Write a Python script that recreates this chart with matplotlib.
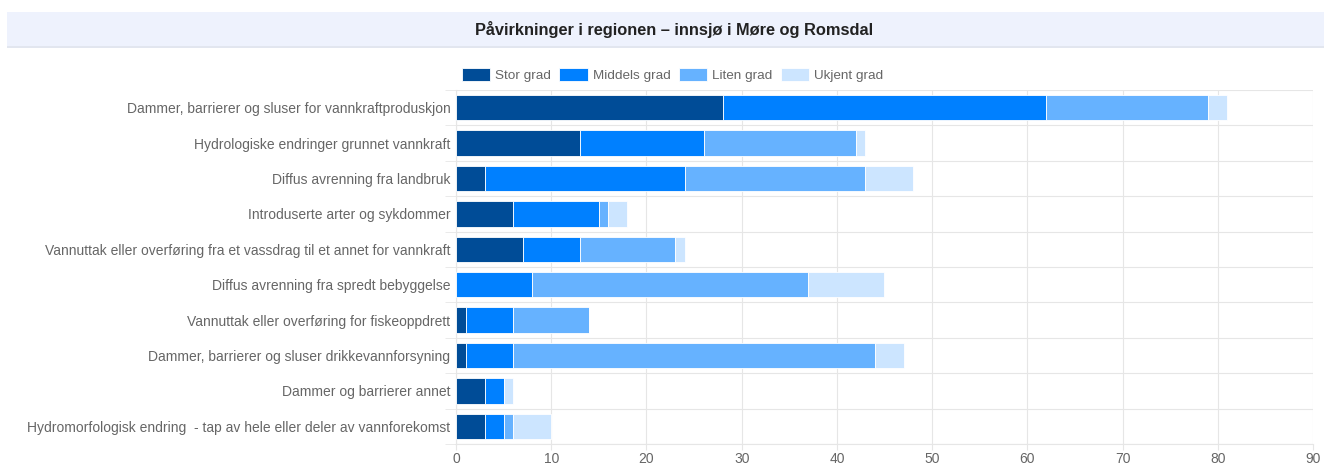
import numpy as np
import matplotlib.pyplot as plt
from matplotlib.patches import Rectangle

# Påvirkninger i regionen - innsjø i Møre og Romsdal

categories = [
    'Dammer, barrierer og sluser for vannkraftproduskjon',
    'Hydrologiske endringer grunnet vannkraft',
    'Diffus avrenning fra landbruk',
    'Introduserte arter og sykdommer',
    'Vannuttak eller overføring fra et vassdrag til et annet for vannkraft',
    'Diffus avrenning fra spredt bebyggelse',
    'Vannuttak eller overføring for fiskeoppdrett',
    'Dammer, barrierer og sluser drikkevannforsyning',
    'Dammer og barrierer annet',
    'Hydromorfologisk endring  - tap av hele eller deler av vannforekomst',
]

stor = [28, 13, 3, 6, 7, 0, 1, 1, 3, 3]
middels = [34, 13, 21, 9, 6, 8, 5, 5, 2, 2]
liten = [17, 16, 19, 1, 10, 29, 8, 38, 0, 1]
ukjent = [2, 1, 5, 2, 1, 8, 0, 3, 1, 4]

series_labels = ['Stor grad', 'Middels grad', 'Liten grad', 'Ukjent grad']
colors = ['#004c97', '#0080ff', '#66b2ff', '#cce5ff']

plt.rcParams['font.family'] = ['Liberation Sans', 'DejaVu Sans']

fig = plt.figure(figsize=(13.24, 4.65), dpi=100)
ax = fig.add_axes([0.3444, 1 - 444 / 465, 0.6473, 354 / 465])

y = np.arange(len(categories))
left = np.zeros(len(categories))
for vals, lab, col in zip([stor, middels, liten, ukjent], series_labels, colors):
    ax.barh(y, vals, left=left, height=0.72, color=col, label=lab,
            edgecolor='white', linewidth=0.6, zorder=3)
    left += np.array(vals)

ax.set_ylim(len(categories) - 0.5, -0.5)
ax.set_xlim(0, 90)
ax.set_xticks(range(0, 91, 10))
ax.set_yticks(y)
ax.set_yticklabels(categories, fontsize=10, color='#666666')
ax.tick_params(axis='x', labelsize=10, colors='#666666', length=4, pad=2, color='#e6e6e6')
ax.tick_params(axis='y', length=0, pad=4)

# grid: vertical at ticks, horizontal between categories
ax.set_yticks(np.arange(-0.5, len(categories), 1), minor=True)
ax.tick_params(axis='y', which='minor', length=8, color='#e6e6e6')
ax.grid(axis='x', color='#e6e6e6', linewidth=0.8, zorder=0)
ax.grid(axis='y', which='minor', color='#e6e6e6', linewidth=0.8, zorder=0)
for s in ['top', 'right']:
    ax.spines[s].set_visible(False)
ax.spines['left'].set_color('#e6e6e6')
ax.spines['bottom'].set_color('#e6e6e6')

# title band
fig.patches.append(Rectangle((7 / 1324, 1 - 47 / 465), 1, 35 / 465,
                             transform=fig.transFigure, facecolor='#eef2fd',
                             edgecolor='none', zorder=0))
fig.patches.append(Rectangle((7 / 1324, 1 - 48 / 465), 1, 1.5 / 465,
                             transform=fig.transFigure, facecolor='#e2e6ef',
                             edgecolor='none', zorder=0))
fig.text(0.509, 1 - 30 / 465, 'Påvirkninger i regionen – innsjø i Møre og Romsdal',
         ha='center', va='center', fontsize=11.8, fontweight='bold', color='#222222')

fig.legend(loc='center', bbox_to_anchor=(0.508, 1 - 75 / 465), ncol=4, frameon=False,
           fontsize=9.7, handlelength=2.1, handleheight=1.1, columnspacing=0.6,
           handletextpad=0.4, labelcolor='#666666')

fig.savefig('out.png', dpi=100)
